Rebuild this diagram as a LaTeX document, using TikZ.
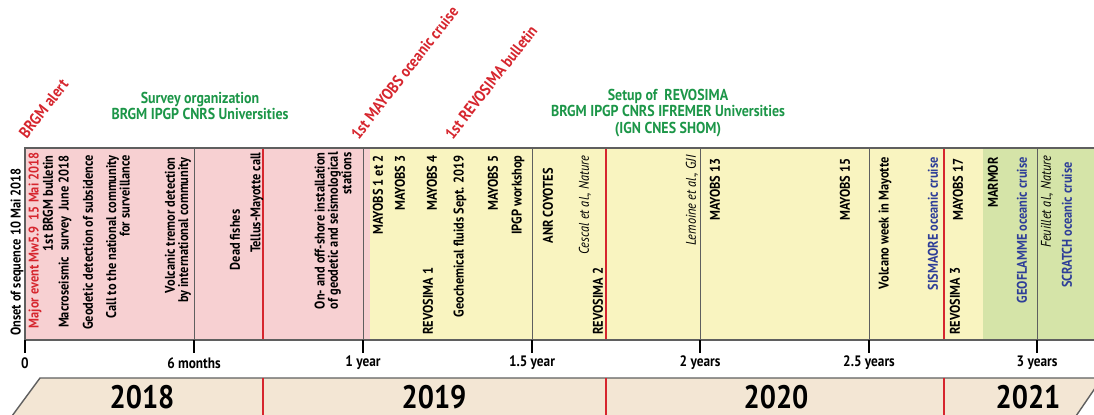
\documentclass[tikz,border=0pt]{standalone}
\usepackage{fontspec}
\setmainfont{PT Sans}[FakeStretch=0.88]
\usepackage{xcolor}
\usepackage{tikz}

\definecolor{alertred}{RGB}{214,38,46}
\definecolor{orggreen}{RGB}{28,150,72}
\definecolor{cruiseblue}{RGB}{46,62,152}
\definecolor{phasepink}{RGB}{247,208,210}
\definecolor{phaseyellow}{RGB}{249,244,192}
\definecolor{phasegreen}{RGB}{213,228,168}
\definecolor{yearbeige}{RGB}{243,230,212}
\definecolor{framegray}{RGB}{95,95,95}

\tikzset{
  evtext/.style={rotate=90,inner sep=0pt,align=right,font=\fontsize{8}{7.6}\selectfont\bfseries},
  evtop/.style={evtext,anchor=east},
  evbot/.style={evtext,anchor=west},
  paper/.style={evtop,font=\fontsize{8}{7.6}\selectfont\itshape},
  cruise/.style={evtop,text=cruiseblue},
  milestone/.style={rotate=52,anchor=south west,inner sep=0pt,text=alertred,font=\fontsize{9.2}{10}\selectfont\bfseries},
  partners/.style={align=center,text=orggreen,font=\fontsize{9}{9.4}\selectfont\bfseries},
  timelabel/.style={font=\fontsize{8.6}{9}\selectfont\bfseries},
  yearlabel/.style={anchor=base,inner sep=0pt,font=\fontsize{18.5}{20}\selectfont\bfseries}
}

\begin{document}
\begin{tikzpicture}[x=0.02cm,y=-0.02cm]
\useasboundingbox (0,0) rectangle (1094,415);

% Phases
\fill[phasepink] (25,148) rectangle (370,340);
\fill[phaseyellow] (370,148) rectangle (983,340);
\fill[phasegreen] (983,148) rectangle (1094,340);

% Separators
\foreach \x in {194,363,532,700,869,1037}
    \draw[framegray,line width=0.5pt] (\x,148) -- (\x,340);
\foreach \x in {263,606,944}
    \draw[alertred,line width=0.6pt] (\x,148) -- (\x,340);

% Frame
\draw[framegray,line width=1pt] (1094,148) -- (25,148) -- (25,340) -- (1094,340);

% Time axis
\foreach \x/\xtext in {25/0, 194/6 months, 363/1 year, 532/1.5 year, 700/2 years, 869/2.5 years, 1037/3 years}{
    \draw[line width=1.4pt] (\x,340) -- (\x,353);
    \node[timelabel] (t-\x) at (\x,363) {\xtext};
}

% Years
\fill[yearbeige] (40,378) -- (1102,378) -- (1076,416) -- (12,416) -- cycle;
\draw[framegray,line width=0.8pt] (12,416) -- (40,378) -- (1102,378) -- (1076,416);
\foreach \x in {263,606,944}
    \draw[alertred,line width=0.6pt] (\x,378) -- (\x,416);
\foreach \x/\year in {142/2018, 434/2019, 776/2020, 1028/2021}
    \node[yearlabel] (yr-\year) at (\x,408) {\year};

% Headings
\node[milestone] (alert) at (27,140) {BRGM alert};
\node[milestone] (cruise1) at (359,141) {1st MAYOBS oceanic cruise};
\node[milestone] (bulletin1) at (453,141) {1st REVOSIMA bulletin};
\node[partners] (survey) at (200,106) {Survey organization\\BRGM IPGP CNRS Universities};
\node[partners] (setup) at (668,113) {Setup of\ \ REVOSIMA\\BRGM IPGP CNRS IFREMER Universities\\(IGN CNES SHOM)};

% Events 2018
\node[evbot] (onset) at (17,336) {Onset of sequence 10 Mai 2018};
\node[evtop,text=alertred] (major) at (35,152) {Major event Mw5.9\ \ 15 Mai 2018};
\node[evtop] (brgm) at (48,155) {1st BRGM bulletin};
\node[evtop] (macro) at (65,155) {Macroseismic\ \ survey\ \ June 2018};
\node[evtop] (subsid) at (88,155) {Geodetic detection of subsidence};
\node[evtop] (natcall) at (118,155) {Call to the national community\\for surveillance};
\node[evtop] (tremor) at (178,157) {Volcanic tremor detection\\by international community};
\node[evtext] (fishes) at (235,240) {Dead fishes};
\node[evtop] (tellus) at (257,152) {Tellus-Mayotte call};
\node[evtop] (install) at (333,152) {On- and off-shore installation\\of geodetic and seismological\\stations};

% Events 2019
\node[evtop] (mayobs12) at (378,155) {MAYOBS 1 et 2};
\node[evtop] (mayobs3) at (400,155) {MAYOBS 3};
\node[evbot] (revo1) at (428,335) {REVOSIMA 1};
\node[evtop] (mayobs4) at (432,155) {MAYOBS 4};
\node[evtop] (fluids) at (460,155) {Geochemical fluids Sept. 2019};
\node[evtop] (mayobs5) at (493,155) {MAYOBS 5};
\node[evtop] (ipgp) at (518,155) {IPGP workshop};
\node[evtop] (coyotes) at (548,168) {ANR COYOTES};
\node[paper] (cescal) at (585,155) {Cescal et al., Nature};
\node[evbot] (revo2) at (598,335) {REVOSIMA 2};

% Events 2020
\node[paper] (lemoine) at (692,155) {Lemoine et al., GJI};
\node[evtop] (mayobs13) at (715,158) {MAYOBS 13};
\node[evtop] (mayobs15) at (845,158) {MAYOBS 15};
\node[evtop] (volcweek) at (885,157) {Volcano week in Mayotte};
\node[cruise] (sismaore) at (933,157) {SISMAORE oceanic cruise};

% Events 2021
\node[evbot] (revo3) at (955,335) {REVOSIMA 3};
\node[evtop] (mayobs17) at (958,158) {MAYOBS 17};
\node[evtop] (marmor) at (993,157) {MARMOR};
\node[cruise] (geoflamme) at (1022,157) {GEOFLAMME oceanic cruise};
\node[paper] (feuillet) at (1047,155) {Feuillet al., Nature};
\node[cruise] (scratch) at (1067,162) {SCRATCH oceanic cruise};

\end{tikzpicture}
\end{document}
